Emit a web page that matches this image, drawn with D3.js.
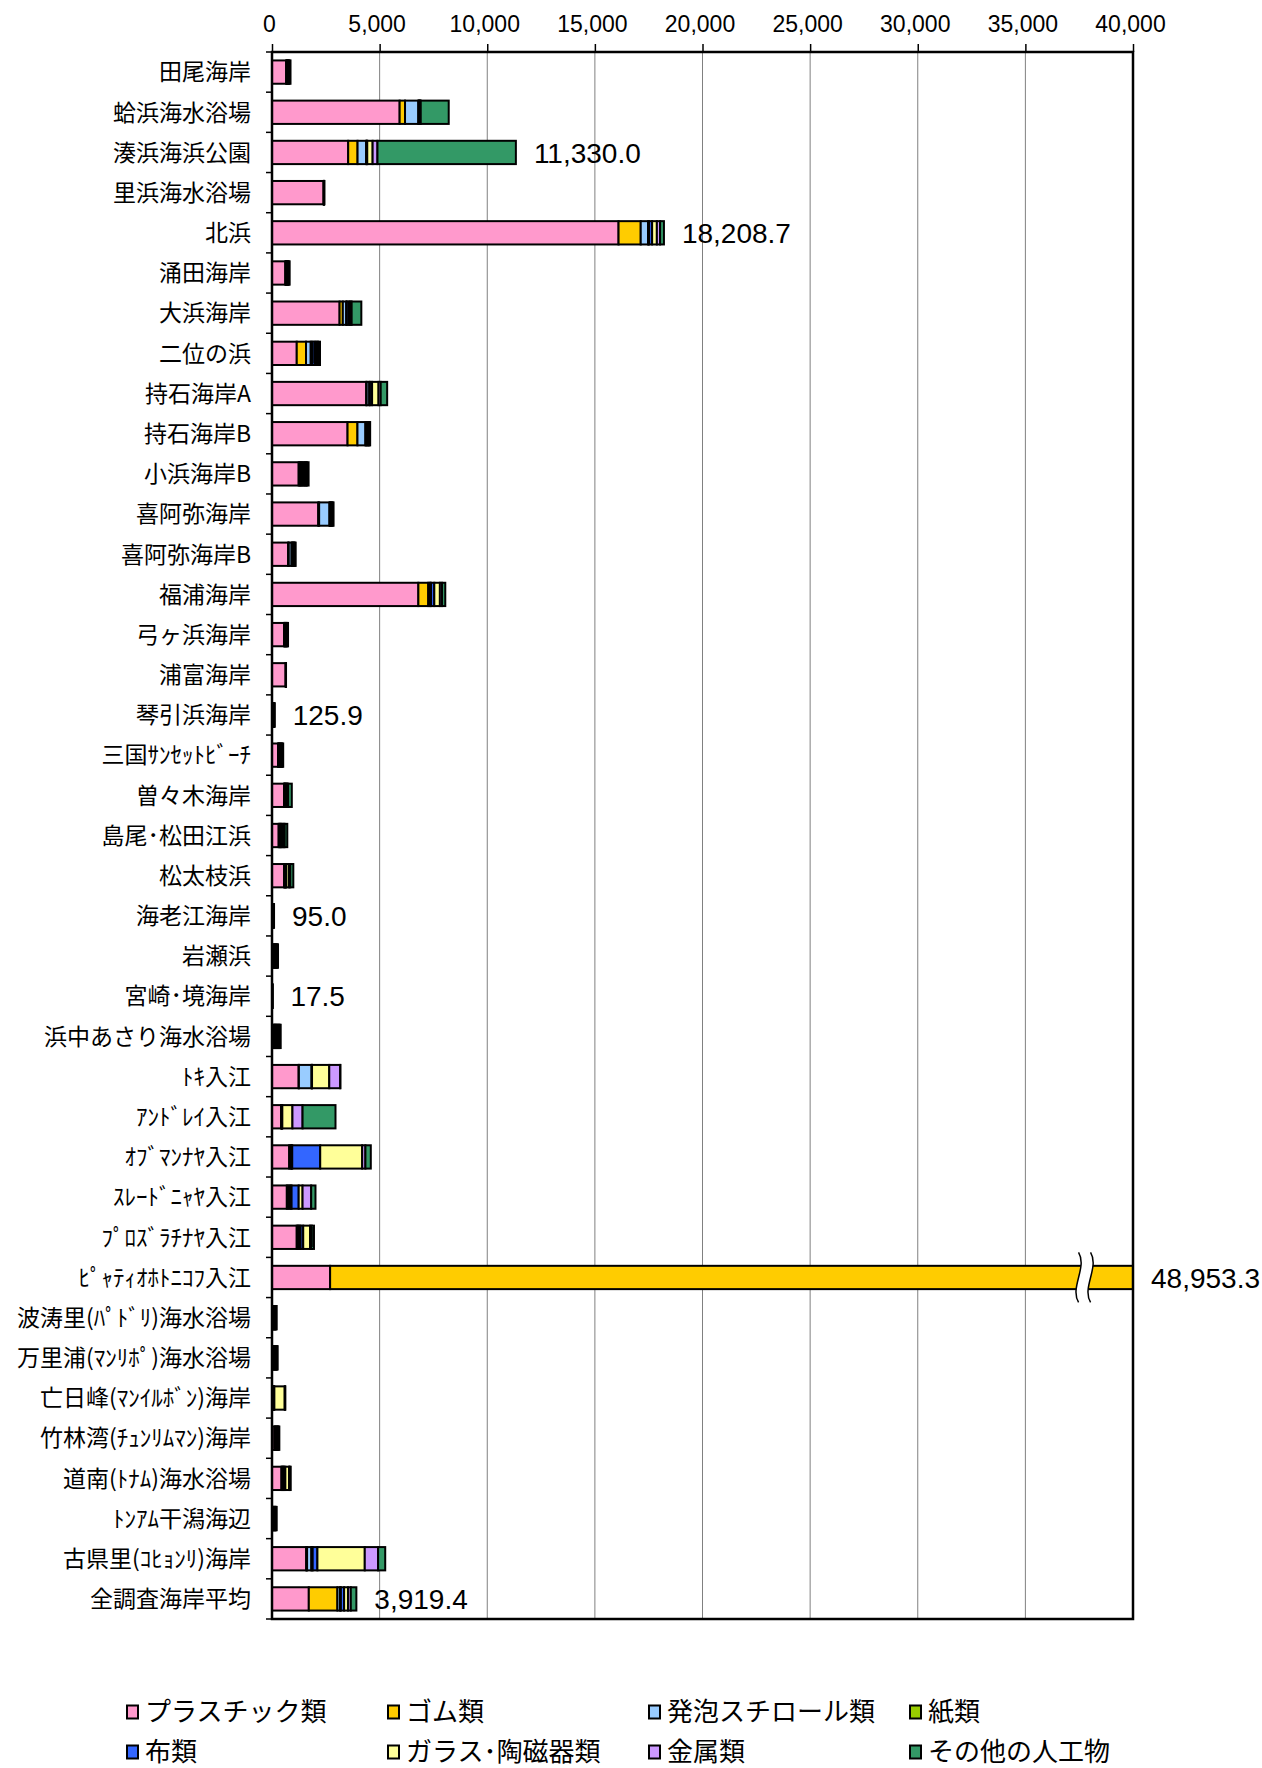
<!DOCTYPE html>
<html>
<head>
<meta charset="utf-8">
<script src="https://cdn.jsdelivr.net/npm/d3@7"></script>
<style>
  body { margin: 0; background: #fff; }
</style>
</head>
<body>
<div id="container"></div>
<script>
const sites = [
  '田尾海岸', '蛤浜海水浴場', '湊浜海浜公園', '里浜海水浴場', '北浜', '涌田海岸', '大浜海岸', '二位の浜',
  '持石海岸A', '持石海岸B', '小浜海岸B', '喜阿弥海岸', '喜阿弥海岸B', '福浦海岸', '弓ヶ浜海岸', '浦富海岸',
  '琴引浜海岸', '三国ｻﾝｾｯﾄﾋﾞｰﾁ', '曽々木海岸', '島尾･松田江浜', '松太枝浜', '海老江海岸', '岩瀬浜', '宮崎･境海岸',
  '浜中あさり海水浴場', 'ﾄｷ入江', 'ｱﾝﾄﾞﾚｲ入江', 'ｵﾌﾞﾏﾝﾅﾔ入江', 'ｽﾚｰﾄﾞﾆｬﾔ入江', 'ﾌﾟﾛｽﾞﾗﾁﾅﾔ入江', 'ﾋﾟｬﾃｨｵﾎﾄﾆｺﾌ入江',
  '波涛里(ﾊﾟﾄﾞﾘ)海水浴場', '万里浦(ﾏﾝﾘﾎﾟ)海水浴場', '亡日峰(ﾏﾝｲﾙﾎﾞﾝ)海岸', '竹林湾(ﾁｭﾝﾘﾑﾏﾝ)海岸', '道南(ﾄﾅﾑ)海水浴場',
  'ﾄﾝｱﾑ干潟海辺', '古県里(ｺﾋｮﾝﾘ)海岸', '全調査海岸平均'
];

const plastic   = [660, 5930, 3540, 2400, 16100, 620, 3140, 1150, 4380, 3510, 1240, 2150, 750, 6800, 560, 640, 40, 280, 560, 310, 560, 30, 70, 5, 90, 1240, 430, 800, 690, 1150, 2700, 40, 60, 30, 110, 440, 28, 1590, 1710];
const rubber    = [20, 250, 435, 5, 1030, 20, 150, 430, 20, 460, 60, 40, 30, 460, 20, 2, 10, 30, 20, 40, 30, 10, 30, 2, 40, 10, 10, 80, 80, 60, 46220, 25, 29, 20, 33, 40, 27, 40, 1330];
const styrofoam = [30, 620, 400, 5, 340, 30, 160, 220, 120, 370, 60, 480, 130, 80, 30, 2, 10, 30, 30, 40, 30, 10, 30, 2, 40, 590, 10, 30, 80, 60, 5, 25, 29, 20, 33, 40, 27, 200, 120];
const paper     = [10, 20, 30, 2, 50, 20, 30, 80, 30, 40, 60, 30, 30, 50, 20, 1, 10, 30, 20, 30, 20, 5, 30, 1, 40, 10, 10, 30, 60, 60, 5, 25, 29, 20, 33, 40, 27, 60, 40];
const cloth     = [30, 30, 20, 2, 140, 30, 100, 100, 100, 50, 80, 40, 40, 150, 30, 1, 15, 40, 40, 60, 30, 10, 30, 2, 50, 10, 20, 1300, 330, 120, 5, 25, 29, 20, 33, 60, 27, 220, 150];
const glass     = [30, 30, 250, 5, 220, 30, 60, 80, 300, 50, 60, 40, 40, 260, 30, 2, 15, 40, 30, 60, 120, 10, 30, 2, 50, 800, 470, 1950, 180, 320, 10, 25, 29, 480, 33, 170, 27, 2200, 180];
const metal     = [30, 30, 225, 5, 150, 30, 60, 80, 100, 40, 60, 40, 40, 100, 30, 2, 10, 30, 50, 50, 60, 10, 30, 1.5, 50, 510, 470, 150, 400, 80, 5, 25, 29, 15, 33, 40, 27, 620, 130];
const other     = [50, 1300, 6430, 6, 178.7, 40, 450, 90, 300, 40, 80, 40, 40, 150, 25, 2, 15.9, 40, 170, 120, 140, 10, 30, 2, 44, 5, 1530, 250, 200, 100, 3.3, 27, 29, 15, 33, 40, 27, 330, 259.4];

const seriesNames = ['プラスチック類', 'ゴム類', '発泡スチロール類', '紙類', '布類', 'ガラス･陶磁器類', '金属類', 'その他の人工物'];
const seriesColors = ['#FF99CC', '#FFCC00', '#99CCFF', '#99CC00', '#3366FF', '#FFFF99', '#CC99FF', '#339966'];
const xTicks = [0, 5000, 10000, 15000, 20000, 25000, 30000, 35000, 40000];
const labeledSites = ['湊浜海浜公園', '北浜', '琴引浜海岸', '海老江海岸', '宮崎･境海岸', 'ﾋﾟｬﾃｨｵﾎﾄﾆｺﾌ入江', '全調査海岸平均'];
const xMax = 40000;
const breakValue = 37750;

const width = 1262;
const height = 1768;
const margin = {top: 52, right: 129, bottom: 149, left: 272};
const numFont = '"Liberation Sans", Arial, sans-serif';
const jpFont = '"Noto Sans CJK JP", sans-serif';

const seriesArrays = [plastic, rubber, styrofoam, paper, cloth, glass, metal, other];
const table = sites.map((s, i) => {
  const row = {site: s};
  seriesNames.forEach((n, k) => { row[n] = seriesArrays[k][i]; });
  return row;
});
const stacked = d3.stack().keys(seriesNames)(table);
const totals = table.map(r => d3.sum(seriesNames, n => r[n]));

const svg = d3.select('#container').append('svg')
  .attr('width', width).attr('height', height)
  .style('background', '#fff');

const x = d3.scaleLinear().domain([0, xMax]).range([margin.left, width - margin.right]);
const y = d3.scaleBand().domain(sites)
  .range([margin.top, height - margin.bottom])
  .paddingInner(0.42).paddingOuter(0.21);

const plotTop = margin.top;
const plotBottom = height - margin.bottom;

// gridlines
svg.append('g').selectAll('line')
  .data(xTicks.slice(1, -1))
  .enter().append('line')
  .attr('x1', d => x(d)).attr('x2', d => x(d))
  .attr('y1', plotTop).attr('y2', plotBottom)
  .attr('stroke', '#808080').attr('stroke-width', 1);

svg.append('clipPath').attr('id', 'plotClip')
  .append('rect')
  .attr('x', x(0) - 2).attr('y', plotTop)
  .attr('width', x(xMax) - x(0) + 2).attr('height', plotBottom - plotTop);

const bars = svg.append('g').attr('clip-path', 'url(#plotClip)');
bars.selectAll('g')
  .data(stacked)
  .enter().append('g')
  .attr('fill', (d, i) => seriesColors[i])
  .selectAll('rect')
  .data(d => d)
  .enter().append('rect')
  .attr('x', d => x(d[0]))
  .attr('y', d => y(d.data.site))
  .attr('width', d => Math.max(0, x(d[1]) - x(d[0])))
  .attr('height', y.bandwidth())
  .attr('stroke', '#000')
  .attr('stroke-width', 2);

// axis break on bars beyond the scale
const breakX = x(breakValue);
table.forEach((r, i) => {
  if (totals[i] <= xMax) return;
  const cy = y(r.site) + y.bandwidth() / 2;
  const h = 25;
  const curve = ox => `M${ox},${cy - h} C${ox + 9},${cy - 10} ${ox - 9},${cy + 10} ${ox},${cy + h}`;
  const curveBack = ox => `L${ox},${cy + h} C${ox - 9},${cy + 10} ${ox + 9},${cy - 10} ${ox},${cy - h}`;
  svg.append('path')
    .attr('d', curve(breakX - 6) + curveBack(breakX + 6) + 'Z')
    .attr('fill', '#fff');
  [breakX - 6, breakX + 6].forEach(ox => {
    svg.append('path').attr('d', curve(ox))
      .attr('fill', 'none').attr('stroke', '#000').attr('stroke-width', 1.5);
  });
});

// plot frame
svg.append('rect')
  .attr('x', x(0)).attr('y', plotTop)
  .attr('width', x(xMax) - x(0)).attr('height', plotBottom - plotTop)
  .attr('fill', 'none').attr('stroke', '#000').attr('stroke-width', 2.5);

// top axis
const xAxis = svg.append('g')
  .attr('transform', `translate(0,${plotTop})`)
  .call(d3.axisTop(x).tickValues(xTicks).tickFormat(d3.format(',')).tickSize(8).tickPadding(12));
xAxis.select('.domain').remove();
xAxis.selectAll('line').attr('stroke', '#000').attr('stroke-width', 1.5);
xAxis.selectAll('text')
  .attr('x', -3)
  .style('font-family', numFont).style('font-size', '23px').attr('fill', '#000');

// category axis
const yAxis = svg.append('g')
  .attr('transform', `translate(${x(0)},0)`)
  .call(d3.axisLeft(y).tickSize(0).tickPadding(21));
yAxis.select('.domain').remove();
yAxis.selectAll('text')
  .attr('dy', '0.36em')
  .style('font-family', jpFont).style('font-size', '23px').attr('fill', '#000');

svg.append('g').selectAll('line')
  .data(d3.range(sites.length + 1))
  .enter().append('line')
  .attr('x1', x(0) - 6).attr('x2', x(0))
  .attr('y1', i => plotTop + i * y.step()).attr('y2', i => plotTop + i * y.step())
  .attr('stroke', '#000').attr('stroke-width', 1.5);

// totals
const fmt = d3.format(',.1f');
svg.append('g').selectAll('text')
  .data(table.filter(r => labeledSites.includes(r.site)))
  .enter().append('text')
  .attr('x', r => Math.min(x(totals[sites.indexOf(r.site)]), x(xMax)) + 18)
  .attr('y', r => y(r.site) + y.bandwidth() / 2)
  .attr('dy', '0.36em')
  .style('font-family', numFont).style('font-size', '28px')
  .text(r => fmt(totals[sites.indexOf(r.site)]));

// legend
const legend = svg.append('g').selectAll('g')
  .data(seriesNames)
  .enter().append('g')
  .attr('transform', (d, i) => `translate(${127 + (i % 4) * 261},${1712 + Math.floor(i / 4) * 40})`);
legend.append('rect')
  .attr('x', 0).attr('y', -6.5).attr('width', 11).attr('height', 13)
  .attr('fill', (d, i) => seriesColors[i])
  .attr('stroke', '#000').attr('stroke-width', 2);
legend.append('text')
  .attr('x', 18).attr('dy', '0.36em')
  .style('font-family', jpFont).style('font-size', '26px')
  .text(d => d);
</script>
</body>
</html>
